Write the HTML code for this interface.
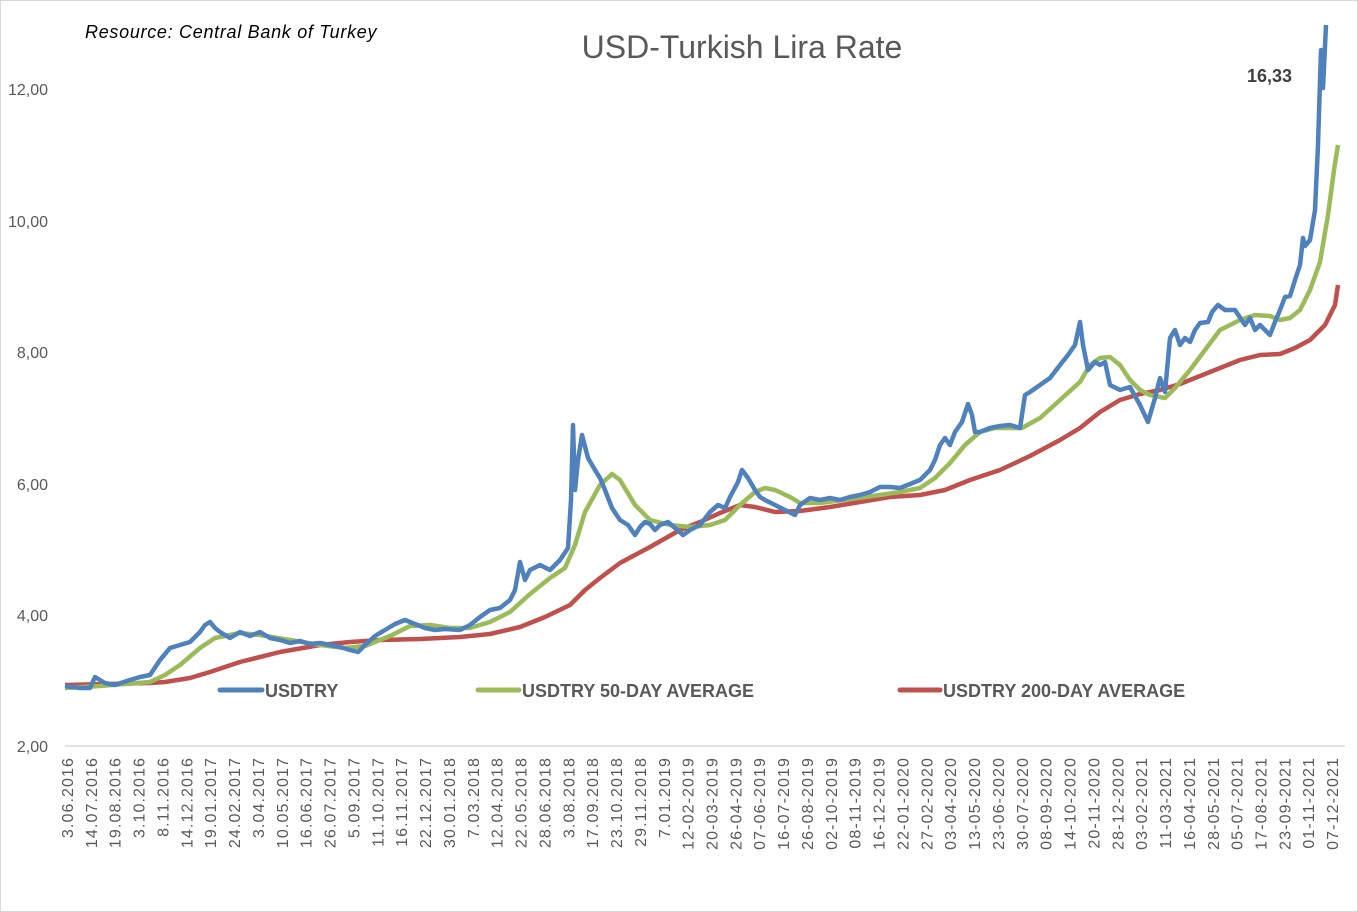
<!DOCTYPE html>
<html><head><meta charset="utf-8"><style>
html,body{margin:0;padding:0;background:#fff}
svg{display:block}
text{font-family:"Liberation Sans",sans-serif;fill:#595959}
</style></head><body>
<svg width="1358" height="912" viewBox="0 0 1358 912" xmlns="http://www.w3.org/2000/svg">
<rect x="0.5" y="0.5" width="1357" height="911" fill="#fff" stroke="#d9d9d9"/>
<line x1="65" y1="746" x2="1345" y2="746" stroke="#d9d9d9" stroke-width="1.5"/>
<g font-size="16" text-anchor="end">
<text x="48" y="95">12,00</text>
<text x="48" y="227">10,00</text>
<text x="48" y="358">8,00</text>
<text x="48" y="490">6,00</text>
<text x="48" y="621">4,00</text>
<text x="48" y="752">2,00</text>
</g>
<text x="742" y="58" font-size="32" text-anchor="middle">USD-Turkish Lira Rate</text>
<text x="85" y="38" font-size="18" font-style="italic" letter-spacing="0.7" style="fill:#000">Resource: Central Bank of Turkey</text>
<text x="1247" y="82" font-size="18" font-weight="bold" style="fill:#404040">16,33</text>
<g id="xl" font-size="16" letter-spacing="1.1" text-anchor="end"></g>
<polyline fill="none" stroke="#c0504d" stroke-width="4.5" stroke-linejoin="round" points="65,685 150,683 165,682 190,678 210,672 240,662 280,652 320,645 350,642 380,640 420,639 460,637 490,634 520,627 545,617 570,605 585,590 600,578 620,563 650,547 680,530 700,522 720,513 740,505 755,507 775,512 800,511 830,507 860,502 890,497 920,495 945,490 970,480 1000,470 1030,456 1060,440 1080,428 1100,412 1120,400 1140,394 1160,390 1180,384 1200,376 1220,368 1240,360 1260,355 1280,354 1295,348 1310,340 1325,325 1335,305 1338,285"/>
<polyline fill="none" stroke="#9bbb59" stroke-width="4.5" stroke-linejoin="round" points="65,688 100,686 150,682 165,675 180,665 200,648 215,638 240,633 260,635 290,640 320,645 345,648 365,646 390,636 410,626 430,625 450,628 470,628 490,622 510,612 530,594 550,578 565,568 575,545 585,512 600,485 612,474 620,480 635,505 650,520 670,525 690,527 710,525 725,520 740,505 755,492 765,488 775,490 790,497 800,503 820,503 850,499 880,495 900,492 920,488 935,478 950,463 965,445 980,432 995,428 1010,428 1022,428 1040,418 1060,400 1080,382 1090,365 1100,358 1110,357 1120,365 1130,380 1140,390 1150,395 1165,398 1175,388 1190,370 1205,350 1220,330 1240,320 1255,315 1270,316 1280,320 1290,318 1300,310 1310,290 1320,262 1328,215 1334,170 1338,145"/>
<polyline fill="none" stroke="#4f81bd" stroke-width="4.5" stroke-linejoin="round" points="65,686 80,688 90,688 95,677 105,683 115,685 130,680 140,677 150,675 160,660 170,648 180,645 190,642 200,632 205,625 210,622 215,628 220,632 230,638 240,632 250,636 260,632 270,638 280,640 290,643 300,641 310,644 320,643 330,645 340,647 350,650 358,652 365,645 375,636 385,630 395,624 405,620 415,624 425,628 435,630 445,629 460,630 470,625 480,617 490,610 500,608 510,600 515,590 520,562 525,580 530,570 540,565 550,570 560,560 568,548 571,500 573,425 575,490 578,460 582,435 588,458 595,470 600,478 605,490 612,508 620,520 628,525 635,535 640,527 645,522 650,524 655,530 660,525 668,522 675,528 683,535 690,530 700,525 710,512 718,505 725,508 730,497 738,482 742,470 748,478 755,490 760,497 765,500 775,505 785,510 795,515 800,505 810,498 820,500 830,498 840,500 850,497 860,495 870,492 880,487 890,487 900,488 910,484 920,480 930,470 935,460 940,445 945,438 950,445 955,432 962,422 968,404 972,415 975,432 980,432 990,428 1000,426 1010,425 1020,428 1025,395 1030,392 1040,385 1050,378 1060,365 1068,355 1075,345 1080,322 1083,345 1088,370 1095,362 1100,365 1105,362 1110,385 1120,390 1130,387 1140,405 1148,422 1155,398 1160,378 1165,392 1170,338 1175,330 1180,345 1185,338 1190,342 1195,330 1200,323 1208,322 1212,312 1218,305 1225,310 1235,310 1245,325 1250,318 1255,330 1260,325 1265,330 1270,335 1275,322 1280,310 1285,297 1290,296 1295,280 1300,265 1303,238 1305,246 1310,240 1315,210 1318,145 1321,50 1323,88 1326,25"/>
<g font-size="18" font-weight="bold">
<line x1="220" y1="690" x2="262" y2="690" stroke="#4f81bd" stroke-width="5" stroke-linecap="round"/>
<text x="265" y="697">USDTRY</text>
<line x1="478" y1="690" x2="519" y2="690" stroke="#9bbb59" stroke-width="5" stroke-linecap="round"/>
<text x="522" y="697">USDTRY 50-DAY AVERAGE</text>
<line x1="900" y1="690" x2="940" y2="690" stroke="#c0504d" stroke-width="5" stroke-linecap="round"/>
<text x="943" y="697">USDTRY 200-DAY AVERAGE</text>
</g>
</svg>
<script>
var L="3.06.2016 14.07.2016 19.08.2016 3.10.2016 8.11.2016 14.12.2016 19.01.2017 24.02.2017 3.04.2017 10.05.2017 16.06.2017 26.07.2017 5.09.2017 11.10.2017 16.11.2017 22.12.2017 30.01.2018 7.03.2018 12.04.2018 22.05.2018 28.06.2018 3.08.2018 17.09.2018 23.10.2018 29.11.2018 7.01.2019 12-02-2019 20-03-2019 26-04-2019 07-06-2019 16-07-2019 26-08-2019 02-10-2019 08-11-2019 16-12-2019 22-01-2020 27-02-2020 03-04-2020 13-05-2020 23-06-2020 30-07-2020 08-09-2020 14-10-2020 20-11-2020 28-12-2020 03-02-2021 11-03-2021 16-04-2021 28-05-2021 05-07-2021 17-08-2021 23-09-2021 01-11-2021 07-12-2021".split(" ");
var g=document.getElementById("xl"),ns="http://www.w3.org/2000/svg";
for(var i=0;i<L.length;i++){var x=67+i*23.87+6;var t=document.createElementNS(ns,"text");t.setAttribute("transform","translate("+x.toFixed(1)+",757) rotate(-90)");t.textContent=L[i];g.appendChild(t);}
</script>
</body></html>
